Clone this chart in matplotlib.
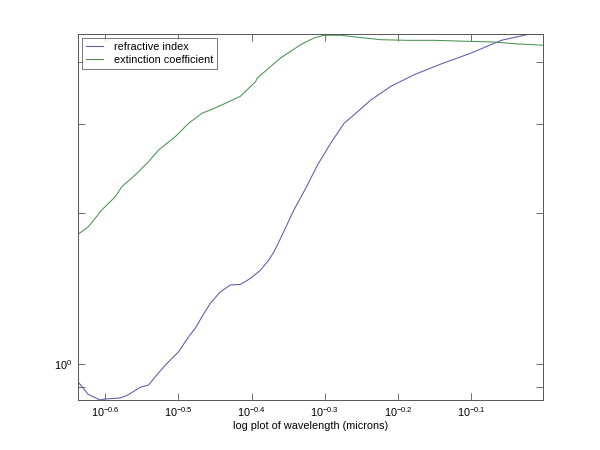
import matplotlib
matplotlib.use("Agg")
import matplotlib.pyplot as plt
from matplotlib.ticker import FixedLocator, NullFormatter, NullLocator

plt.rcParams['font.family'] = ['Liberation Sans', 'DejaVu Sans']
plt.rcParams['mathtext.fontset'] = 'custom'
plt.rcParams['mathtext.rm'] = 'Liberation Sans'
plt.rcParams['mathtext.it'] = 'Liberation Sans'
plt.rcParams['axes.unicode_minus'] = False

# wavelength (microns) and refractive index n
wl_n = [0.2307, 0.238, 0.2472, 0.2512, 0.2633, 0.270, 0.2805, 0.2879, 0.2940,
        0.3035, 0.3165, 0.3266, 0.3336, 0.3406, 0.3497, 0.3609, 0.3725, 0.3845,
        0.3968, 0.4096, 0.4204, 0.4272, 0.4362, 0.4548, 0.4720, 0.4898, 0.5105,
        0.5325, 0.5556, 0.5794, 0.6169, 0.6643, 0.7227, 0.7943, 0.8730, 0.9598, 1.0]
n_vals = [0.922, 0.871, 0.848, 0.852, 0.856, 0.868, 0.899, 0.908, 0.943,
          0.995, 1.058, 1.133, 1.179, 1.242, 1.321, 1.393, 1.437, 1.441,
          1.481, 1.539, 1.612, 1.674, 1.780, 2.027, 2.239, 2.491, 2.752,
          3.016, 3.181, 3.357, 3.574, 3.771, 3.960, 4.164, 4.413, 4.550, 4.606]

# wavelength (microns) and extinction coefficient k
wl_k = [0.2309, 0.2383, 0.2486, 0.2593, 0.2648, 0.2761, 0.2879, 0.2972, 0.3132,
        0.3266, 0.3406, 0.3516, 0.3667, 0.3845, 0.4031, 0.4053, 0.4362, 0.4647,
        0.4844, 0.5000, 0.5271, 0.5556, 0.5978, 0.6506, 0.7077, 0.7861, 0.8550,
        0.9204, 1.0]
k_vals = [1.815, 1.877, 2.027, 2.154, 2.256, 2.380, 2.529, 2.669, 2.837,
          3.016, 3.158, 3.217, 3.306, 3.416, 3.650, 3.713, 4.071, 4.326,
          4.461, 4.517, 4.517, 4.476, 4.426, 4.413, 4.413, 4.393, 4.379,
          4.340, 4.314]

x_tick_exps = [-0.6, -0.5, -0.4, -0.3, -0.2, -0.1]
x_tick_labels = ['$10^{%g}$' % e for e in x_tick_exps]
y_major = [1.0]
y_major_labels = ['$10^{0}$']
y_minor = [0.9, 2, 3, 4]

fig = plt.figure(figsize=(6, 4.5), dpi=100)
ax = fig.add_axes([0.13, 0.111, 0.775, 0.8135])
ax.plot(wl_n, n_vals, color='#5a5ab0', lw=0.75, label='refractive index')
ax.plot(wl_k, k_vals, color='#489250', lw=0.75, label='extinction coefficient')
ax.set_xscale('log')
ax.set_yscale('log')
ax.set_xlim(10 ** -0.637, 10 ** -0.002)
ax.set_ylim(10 ** -0.0717, 10 ** 0.6574)

ax.xaxis.set_major_locator(FixedLocator([10 ** e for e in x_tick_exps]))
ax.set_xticklabels(x_tick_labels)
ax.xaxis.set_minor_locator(NullLocator())
ax.yaxis.set_major_locator(FixedLocator(y_major))
ax.set_yticklabels(y_major_labels)
ax.yaxis.set_minor_locator(FixedLocator(y_minor))
ax.yaxis.set_minor_formatter(NullFormatter())

ax.tick_params(which='both', direction='in', top=True, right=True,
               length=5, width=0.6, labelsize=7.8, pad=4, color='#555555')
for s in ax.spines.values():
    s.set_linewidth(0.7)
    s.set_color('#555555')

ax.set_xlabel('log plot of wavelength (microns)', fontsize=7.8, labelpad=1)

leg = ax.legend(loc='upper left', fontsize=7.8, frameon=True, fancybox=False,
                borderaxespad=0.4, handlelength=1.6, handletextpad=1.0,
                borderpad=0.35, labelspacing=0.25)
leg.get_frame().set_edgecolor('#555555')
leg.get_frame().set_linewidth(0.7)

fig.savefig('out.png', dpi=100)
